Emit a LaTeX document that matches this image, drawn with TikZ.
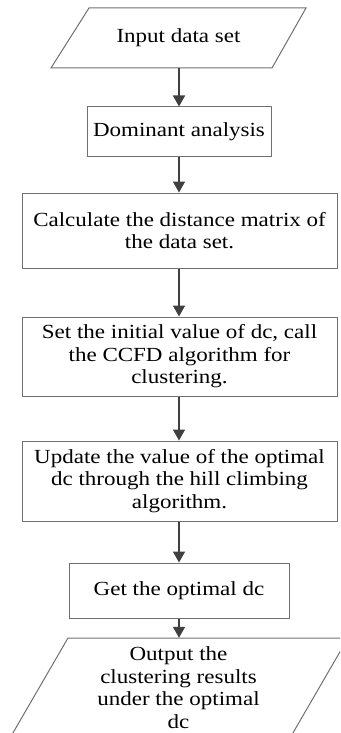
\documentclass[tikz,border=0pt]{standalone}
\usepackage{fontspec}
\setmainfont{Liberation Serif}[FakeStretch=1.15]
\usetikzlibrary{arrows.meta}
\definecolor{boxline}{HTML}{707070}
\definecolor{arrowline}{HTML}{404040}
\tikzset{
  stepbox/.style={draw=boxline, line width=1pt, rectangle, inner sep=0pt,
    align=center, font=\fontsize{20}{22.5}\selectfont},
  iobox/.style={rectangle, inner sep=0pt,
    align=center, font=\fontsize{20}{22.5}\selectfont},
  ioline/.style={draw=boxline, line width=1pt, line join=miter},
  flow/.style={draw=arrowline, line width=1.6pt,
    -{Triangle[length=11pt,width=12pt]}},
}
\begin{document}
\begin{tikzpicture}[x=1pt,y=-1pt]
  \useasboundingbox (0,0) rectangle (340,733);
  \clip (0,0) rectangle (340,733);

  % input parallelogram
  \draw[ioline] (89,8) -- (306,8) -- (272,68) -- (51,68) -- cycle;
  \node[iobox, minimum width=180pt, minimum height=60pt] (input) at (178.5,38) {Input data set};

  \node[stepbox, minimum width=184pt, minimum height=49pt] (dom) at (179,131.5) {Dominant analysis};
  \node[stepbox, minimum width=315pt, minimum height=75pt] (dist) at (179.5,230.5)
    {Calculate the distance matrix of\\the data set.};
  \node[stepbox, minimum width=315pt, minimum height=79pt] (init) at (179.5,356.5)
    {Set the initial value of dc, call\\the CCFD algorithm for\\clustering.};
  \node[stepbox, minimum width=315pt, minimum height=80pt] (upd) at (179.5,481)
    {Update the value of the optimal\\dc through the hill climbing\\algorithm.};
  \node[stepbox, minimum width=220pt, minimum height=55pt] (best) at (179,590.5) {Get the optimal dc};

  % output parallelogram (runs past the lower and right edges)
  \draw[ioline] (68,638) -- (348,638) -- (290,738) -- (10,738) -- cycle;
  \node[iobox, minimum width=220pt, minimum height=99pt] (out) at (178.5,687.5)
    {Output the\\clustering results\\under the optimal\\dc};

  \draw[flow] (input.south -| dom.north) -- (dom.north);
  \draw[flow] (dom.south) -- (dom.south |- dist.north);
  \draw[flow] (dist.south -| dom.south) -- (dom.south |- init.north);
  \draw[flow] (init.south -| dom.south) -- (dom.south |- upd.north);
  \draw[flow] (upd.south -| dom.south) -- (dom.south |- best.north);
  \draw[flow] (best.south) -- (best.south |- out.north);
\end{tikzpicture}
\end{document}
